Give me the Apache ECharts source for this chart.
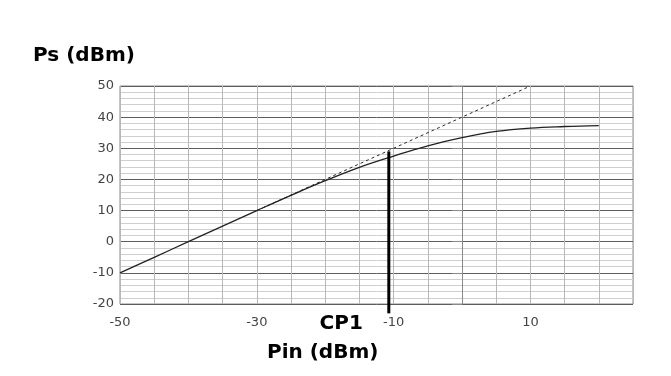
<!DOCTYPE html>
<html>
<head>
<meta charset="utf-8">
<style>
  html, body { margin: 0; padding: 0; background: #ffffff; }
  #chart { width: 671px; height: 376px; }
</style>
<script src="https://cdn.jsdelivr.net/npm/echarts@6/dist/echarts.min.js"></script>
</head>
<body>
<div id="chart"></div>
<script>
// Input power (dBm) and measured output power (dBm) of the amplifier
const pinValues = [-50, -45, -40, -35, -30, -25, -20, -15, -10, -5, 0, 5, 10, 15, 20];
const psValues  = [-10, -5, 0, 5, 10, 14.9, 19.6, 23.9, 27.5, 30.8, 33.4, 35.4, 36.5, 37.0, 37.3];

// Ideal linear gain extrapolation (dashed)
const idealPin = [-30, 9.5];
const idealPs  = [10, 49.5];

// 1 dB compression point marker
const cp1Pin = -10.7;
const cp1Top = 29;
const cp1Bottom = -23;
const cp1Text = 'CP1';

// Axis settings
const xLabelValues = [-50, -30, -10, 10];
const xMin = -50, xMax = 25, xStep = 5;
const yMin = -20, yMax = 50, yStep = 10;

const font = 'DejaVu Sans, Verdana, sans-serif';

const chart = echarts.init(document.getElementById('chart'), null, { renderer: 'canvas' });

chart.setOption({
  backgroundColor: '#ffffff',
  animation: false,
  title: [
    {
      text: 'Ps (dBm)', left: 28, top: 41,
      textStyle: { fontFamily: font, fontWeight: 'bold', fontSize: 20, color: '#000' }
    },
    {
      text: 'Pin (dBm)', left: 262, top: 338,
      textStyle: { fontFamily: font, fontWeight: 'bold', fontSize: 20, color: '#000' }
    }
  ],
  grid: {
    left: 120, right: 38, top: 86, bottom: 72,
    show: true, borderColor: '#8a8a8a', borderWidth: 1, backgroundColor: '#ffffff'
  },
  xAxis: {
    type: 'value',
    min: xMin, max: xMax, interval: xStep,
    axisLine: { show: false },
    axisTick: { show: false },
    axisLabel: {
      margin: 12,
      fontFamily: font, fontSize: 13, color: '#444',
      formatter: v => (xLabelValues.indexOf(v) >= 0 ? String(v) : '')
    },
    splitLine: { show: true, lineStyle: { color: '#b8b8b8', width: 1 } }
  },
  yAxis: {
    type: 'value',
    min: yMin, max: yMax, interval: yStep,
    axisLine: { show: true, lineStyle: { color: '#8a8a8a' } },
    axisTick: { show: true, length: 10, lineStyle: { color: '#8a8a8a' } },
    axisLabel: { margin: 6, fontFamily: font, fontSize: 13, color: '#444' },
    splitLine: { show: true, lineStyle: { color: '#5e5e5e', width: 1 } },
    minorTick: { show: false, splitNumber: 5 },
    minorSplitLine: { show: true, lineStyle: { color: '#cfcfcf', width: 1 } }
  },
  series: [
    {
      name: 'Ps',
      type: 'line',
      data: pinValues.map((x, i) => [x, psValues[i]]),
      smooth: 0.4,
      symbol: 'none',
      lineStyle: { color: '#222', width: 1.3 },
      z: 3
    },
    {
      name: 'Linear',
      type: 'line',
      data: idealPin.map((x, i) => [x, idealPs[i]]),
      symbol: 'none',
      lineStyle: { color: '#2a2a2a', width: 1, type: [3, 3] },
      z: 2
    },
    {
      name: 'CP1',
      type: 'line',
      clip: false,
      data: [[cp1Pin, cp1Top], [cp1Pin, cp1Bottom]],
      symbol: 'none',
      lineStyle: { color: '#000', width: 3 },
      z: 4
    }
  ]
});

// Label the compression-point marker just left of its lower end
const cp1Px = chart.convertToPixel({ gridIndex: 0 }, [cp1Pin, cp1Bottom]);
chart.setOption({
  graphic: [{
    type: 'text',
    x: cp1Px[0] - 26,
    y: cp1Px[1] + 10,
    style: {
      text: cp1Text,
      font: 'bold 20px ' + font,
      fill: '#000',
      align: 'right',
      verticalAlign: 'middle'
    }
  }]
});
</script>
</body>
</html>
